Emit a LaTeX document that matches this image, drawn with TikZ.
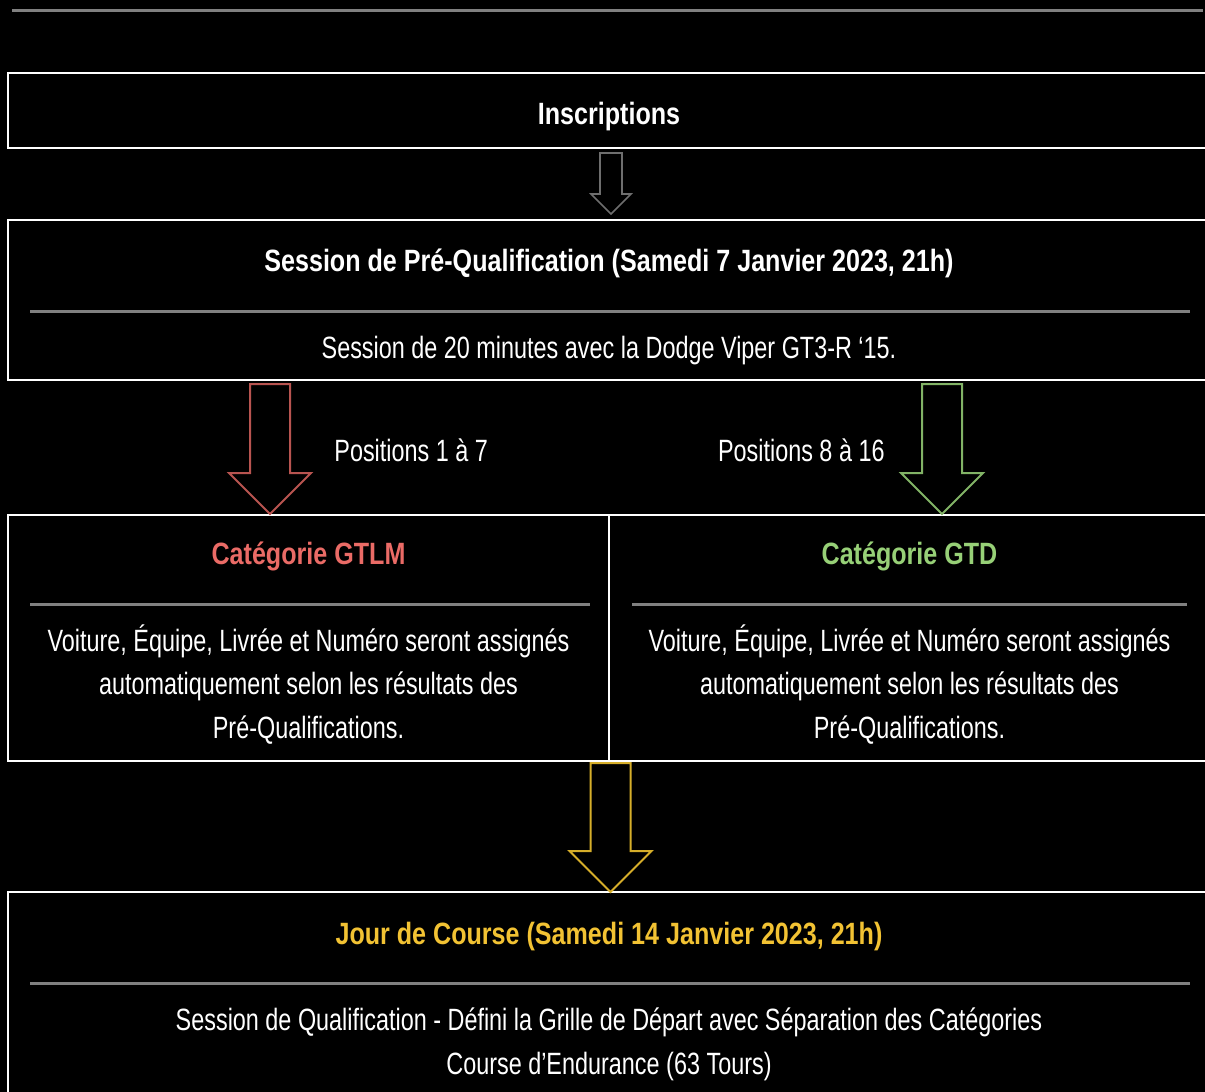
\documentclass[tikz,border=0pt]{standalone}
\usepackage{fontspec}
\setmainfont{Liberation Sans}[FakeStretch=0.76,BoldFeatures={FakeStretch=0.815}]
\usetikzlibrary{positioning,calc}

\definecolor{sepgray}{HTML}{808080}
\definecolor{arrgray}{HTML}{6E6E6E}
\definecolor{gtlmred}{HTML}{EA6B66}
\definecolor{gtdgreen}{HTML}{97D077}
\definecolor{raceyellow}{HTML}{F2C233}
\definecolor{arrred}{HTML}{B85450}
\definecolor{arrgreen}{HTML}{82B366}
\definecolor{arryellow}{HTML}{D6AE2A}

% hollow block arrow from #2 down to the tip #3
\newcommand{\blockarr}[5]{%
  \draw[barrow,#1] let \p1=(#2), \p2=(#3) in
    (\x1-#4,\y1) -- (\x1+#4,\y1) -- (\x1+#4,\y2+#5) -- (\x1+#5,\y2+#5)
    -- (\x2,\y2) -- (\x1-#5,\y2+#5) -- (\x1-#4,\y2+#5) -- cycle;}

\begin{document}
\begin{tikzpicture}[
  x=0.5pt, y=-0.5pt,
  box/.style={draw=white,line width=1.2pt,rectangle,inner sep=0pt},
  ttl/.style={font=\fontsize{15.4}{21.75}\selectfont\bfseries,text=white,anchor=base,inner sep=0pt},
  txt/.style={font=\fontsize{15.4}{21.75}\selectfont,text=white,anchor=base,align=center,inner sep=0pt},
  sep/.style={draw=sepgray,line width=1.5pt},
  barrow/.style={line width=1pt,line join=miter}
]
\path[use as bounding box,fill=black] (0,0) rectangle (1205,1092);

\draw[sep] (12,10) -- (1203,10);

% boxes
\node[box,minimum width=601pt,minimum height=37.5pt] (ins) at (609,110.5) {};
\node[box,minimum width=601pt,minimum height=80pt] (pq) at (609,300) {};
\node[box,minimum width=300.5pt,minimum height=123pt] (gtlm) at (308.5,638) {};
\node[box,minimum width=300.5pt,minimum height=123pt] (gtd) at (909.5,638) {};
\node[box,minimum width=601pt,minimum height=154pt] (race) at (609,1046) {};

% texts (base of a multi-line text is its last line)
\node[ttl] (inst) at (609,124) {Inscriptions};

\node[ttl] (pqt) at (609,271) {Session de Pré-Qualification (Samedi 7 Janvier 2023, 21h)};
\draw[sep] (30,311) -- (1190,311);
\node[txt] (pqb) at (609,358) {Session de 20 minutes avec la Dodge Viper GT3-R ‘15.};

\node[txt,anchor=base west] (pos1) at (334,461) {Positions 1 à 7};
\node[txt,anchor=base east] (pos2) at (885,461) {Positions 8 à 16};

\node[ttl,text=gtlmred] (gtlmt) at (308.5,564) {Catégorie GTLM};
\draw[sep] (30,604) -- (590,604);
\node[txt] (gtlmb) at (308.5,738) {Voiture, Équipe, Livrée et Numéro seront assignés\\automatiquement selon les résultats des\\Pré-Qualifications.};

\node[ttl,text=gtdgreen] (gtdt) at (909.5,564) {Catégorie GTD};
\draw[sep] (632,604) -- (1187,604);
\node[txt] (gtdb) at (909.5,738) {Voiture, Équipe, Livrée et Numéro seront assignés\\automatiquement selon les résultats des\\Pré-Qualifications.};

\node[ttl,text=raceyellow] (racet) at (609,944) {Jour de Course (Samedi 14 Janvier 2023, 21h)};
\draw[sep] (30,983) -- (1190,983);
\node[txt] (raceb) at (609,1074) {Session de Qualification - Défini la Grille de Départ avec Séparation des Catégories\\Course d’Endurance (63 Tours)};

% arrows
\coordinate (g0) at (611,153);
\coordinate (g1) at (611,214);
\coordinate (r0) at (270,384);
\coordinate (r1) at (270,514);
\coordinate (v0) at (942,384);
\coordinate (v1) at (942,514);
\coordinate (y0) at (610.5,763);
\coordinate (y1) at (610.5,892);

\blockarr{draw=arrgray,line width=0.8pt}{g0}{g1}{5.5pt}{10pt}
\blockarr{draw=arrred}{r0}{r1}{10pt}{20.5pt}
\blockarr{draw=arrgreen}{v0}{v1}{10pt}{20.5pt}
\blockarr{draw=arryellow}{y0}{y1}{10pt}{20.5pt}

\end{tikzpicture}
\end{document}
